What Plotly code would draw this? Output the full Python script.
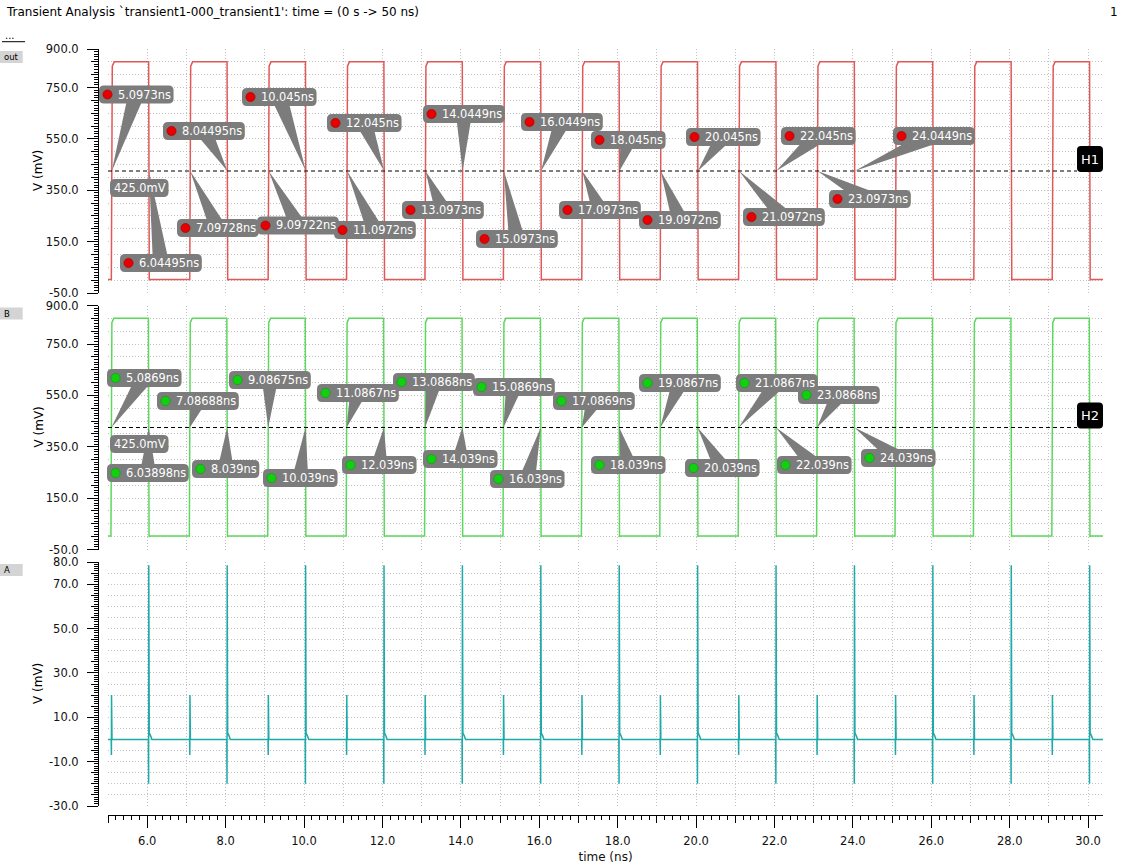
import math
import plotly.graph_objects as go

# ---------------- data ----------------
# threshold-crossing times of node "out" (ns)
out_rise_ns = [5.0973, 7.09728, 9.09722, 11.0972, 13.0973, 15.0973, 17.0973, 19.0972,
               21.0972, 23.0973, 25.0973, 27.0973, 29.0973]
out_fall_ns = [6.04495, 8.04495, 10.045, 12.045, 14.0449, 16.0449, 18.045, 20.045,
               22.045, 24.0449, 26.045, 28.045, 30.045]
# threshold-crossing times of node "B" (ns)
b_rise_ns = [5.0869, 7.08688, 9.08675, 11.0867, 13.0868, 15.0869, 17.0869, 19.0867,
             21.0867, 23.0868, 25.0868, 27.0868, 29.0868]
b_fall_ns = [6.03898, 8.039, 10.039, 12.039, 14.039, 16.039, 18.039, 20.039,
             22.039, 24.039, 26.039, 28.039, 30.039]
square_levels_mV = [3.0, 850.0]          # low, high
threshold_mV = 425.0
n_marked = 10                             # crossings carrying a cursor marker

# node "A": glitch spikes (ns) and their extremes (mV)
a_small_ns = [5.09, 7.09, 9.09, 11.09, 13.09, 15.09, 17.09, 19.09, 21.09, 23.09,
              25.09, 27.09, 29.09]
a_big_ns = [6.04, 8.04, 10.04, 12.04, 14.04, 16.04, 18.04, 20.04, 22.04, 24.04,
            26.04, 28.04, 30.04]
a_small_extremes_mV = [20.0, -7.0]
a_big_extremes_mV = [78.5, -20.0]

panel_names = ["out", "B", "A"]
volt_labels_outB = [900, 750, 550, 350, 150, -50]
volt_labels_A = [80, 70, 50, 30, 10, -10, -30]
time_labels = [6, 8, 10, 12, 14, 16, 18, 20, 22, 24, 26, 28, 30]

# ---------------- label placement (page pixels: box left, box top) ----------------
out_rise_label_px = [(99, 85.5), (177, 219), (257, 216.5), (334, 221), (402, 201), (476, 230),
                     (559, 201), (639, 211), (743, 208), (829, 190)]
out_fall_label_px = [(120, 254), (163, 122), (242, 88), (327, 114), (423, 105), (521, 113),
                     (591, 131), (686, 128), (781, 127), (893, 127)]
b_rise_label_px = [(107, 369), (157, 392), (229, 371), (317, 384), (393, 373), (473, 378),
                   (553, 392), (639, 374), (736, 374), (798, 386)]
b_fall_label_px = [(107, 464), (192, 460), (263, 469), (342, 456), (423, 450), (490, 470),
                   (591, 456), (685, 459), (777, 456), (861, 449)]
thr_label_px = [(110, 179), (110, 435)]

# ---------------- geometry / style ----------------
FIG_W, FIG_H = 1127, 866
M_L, M_R, M_T, M_B = 98, 24, 49, 51
AREA_W = FIG_W - M_L - M_R
AREA_H = FIG_H - M_T - M_B
PLOT_X0, PLOT_X1 = 108, 1103
PANELS_PX = [(49, 293), (305.5, 549.5), (562, 806)]
X_RANGE = [5.0, 30.38]
Y_RANGES = [[-50, 900], [-50, 900], [-30, 80]]
FONT = "DejaVu Sans"
RED, GREEN, TEAL = "#e05858", "#5cd85c", "#1faaaa"
DOT_RED, DOT_GREEN = "#e80000", "#10d010"
BOX_GRAY = "#7c7c7c"
GRID = dict(showgrid=True, gridcolor="#c2c2c2", gridwidth=1, griddash="1px,2px")
LABEL_FS = 11.4


def px_paper(px, py):
    return (px - M_L) / AREA_W, (FIG_H - M_B - py) / AREA_H


def t_to_px(t):
    return PLOT_X0 + (t - X_RANGE[0]) / (X_RANGE[1] - X_RANGE[0]) * (PLOT_X1 - PLOT_X0)


def px_to_t(px):
    return X_RANGE[0] + (px - PLOT_X0) / (PLOT_X1 - PLOT_X0) * (X_RANGE[1] - X_RANGE[0])


def v_to_py(v, k):
    top, bot = PANELS_PX[k]
    lo, hi = Y_RANGES[k]
    return bot - (v - lo) / (hi - lo) * (bot - top)


def py_to_v(py, k):
    top, bot = PANELS_PX[k]
    lo, hi = Y_RANGES[k]
    return lo + (bot - py) / (bot - top) * (hi - lo)


ADV = {**{d: 1303 for d in "0123456789"}, ".": 651, "n": 1298, "s": 1067, "m": 1995, "V": 1401}


def text_w(s, size):
    return sum(ADV.get(c, 1250) for c in s) / 2048 * size


def square_wave(rises, falls):
    low, high = square_levels_mV
    knee = high - 0.02 * (high - low)
    ts, vs = [X_RANGE[0]], [low]
    for r, f in zip(rises, falls):
        ts += [r - 0.012, r + 0.012, r + 0.06, f - 0.008, f + 0.008, f + 0.03]
        vs += [low, knee, high, high, low - 3, low]
    ts.append(X_RANGE[1])
    vs.append(low)
    return ts, vs


def spike_wave(small, big):
    ev = sorted([(t, 0) for t in small] + [(t, 1) for t in big])
    ts, vs = [X_RANGE[0]], [0.0]
    for t, kind in ev:
        if kind == 0:
            hi, lo = a_small_extremes_mV
            ts += [t - 0.008, t - 0.003, t, t + 0.004, t + 0.012]
            vs += [0.0, lo, hi, 0.7 * hi, 0.0]
        else:
            hi, lo = a_big_extremes_mV
            ts += [t - 0.01, t - 0.004, t, t + 0.012, t + 0.05, t + 0.08]
            vs += [0.0, lo, hi, 3.0, 1.5, 0.0]
    ts.append(X_RANGE[1])
    vs.append(0.0)
    return ts, vs


def rounded_path(x0, y0, x1, y1, r):
    pts = [("M", x0 + r, y0), ("L", x1 - r, y0), ("Q", x1, y0, x1, y0 + r), ("L", x1, y1 - r),
           ("Q", x1, y1, x1 - r, y1), ("L", x0 + r, y1), ("Q", x0, y1, x0, y1 - r),
           ("L", x0, y0 + r), ("Q", x0, y0, x0 + r, y0)]
    out = []
    for p in pts:
        cmd, vals = p[0], p[1:]
        coords = []
        for i in range(0, len(vals), 2):
            a, b = px_paper(vals[i], vals[i + 1])
            coords.append(f"{a:.6f},{b:.6f}")
        out.append(cmd + " " + " ".join(coords))
    return " ".join(out) + " Z"


fig = go.Figure()
shapes, annotations = [], []

ts, vs = square_wave(out_rise_ns, out_fall_ns)
fig.add_trace(go.Scatter(x=ts, y=vs, mode="lines", line=dict(color=RED, width=1.5),
                         xaxis="x", yaxis="y", hoverinfo="skip"))
ts, vs = square_wave(b_rise_ns, b_fall_ns)
fig.add_trace(go.Scatter(x=ts, y=vs, mode="lines", line=dict(color=GREEN, width=1.5),
                         xaxis="x", yaxis="y2", hoverinfo="skip"))
ts, vs = spike_wave(a_small_ns, a_big_ns)
fig.add_trace(go.Scatter(x=ts, y=vs, mode="lines", line=dict(color=TEAL, width=1.5),
                         xaxis="x", yaxis="y3", hoverinfo="skip"))
# empty traces so that overlay axes are realised
for xa, ya in [("x2", "y"), ("x", "y4"), ("x", "y5"), ("x", "y6")]:
    fig.add_trace(go.Scatter(x=[None], y=[None], xaxis=xa, yaxis=ya, hoverinfo="skip"))

wedges, boxes, dots = [], [], []


def add_label(k, text, L, T, dot_color, tip_t):
    H = 18
    pad_l = 17.5 if dot_color else 3
    W = pad_l + text_w(text, LABEL_FS) + 4
    cx, cy = L + W / 2, T + H / 2
    yref = ["y", "y2", "y3"][k]
    if tip_t is not None:
        tx, ty = t_to_px(tip_t), v_to_py(threshold_mV, k)
        dx, dy = cx - tx, cy - ty
        n = math.hypot(dx, dy)
        ux, uy = -dy / n, dx / n
        half = 8
        b1 = (cx + ux * half, cy + uy * half)
        b2 = (cx - ux * half, cy - uy * half)
        path = (f"M {tip_t},{threshold_mV} L {px_to_t(b1[0]):.5f},{py_to_v(b1[1], k):.4f} "
                f"L {px_to_t(b2[0]):.5f},{py_to_v(b2[1], k):.4f} Z")
        wedges.append(dict(type="path", xref="x", yref=yref, path=path,
                           fillcolor=BOX_GRAY, line=dict(width=0)))
    boxes.append(dict(type="path", xref="paper", yref="paper",
                      path=rounded_path(L, T, L + W, T + H, 5),
                      fillcolor=BOX_GRAY, line=dict(width=0)))
    if dot_color:
        x0, y0 = px_paper(L + 8.5 - 4.6, cy + 4.6)
        x1, y1 = px_paper(L + 8.5 + 4.6, cy - 4.6)
        dots.append(dict(type="circle", xref="paper", yref="paper", x0=x0, y0=y0, x1=x1, y1=y1,
                         fillcolor=dot_color,
                         line=dict(color="#a00000" if dot_color == DOT_RED else "#0a9a0a", width=0.6)))
    ax, ay = px_paper(L + pad_l, cy)
    annotations.append(dict(xref="paper", yref="paper", x=ax, y=ay, xanchor="left", yanchor="middle",
                            text=text, showarrow=False, borderpad=0,
                            font=dict(family=FONT, size=LABEL_FS, color="white")))


series = [(0, out_rise_ns, out_fall_ns, out_rise_label_px, out_fall_label_px, DOT_RED),
          (1, b_rise_ns, b_fall_ns, b_rise_label_px, b_fall_label_px, DOT_GREEN)]
for k, rises, falls, rpx, fpx, dc in series:
    thr_py = v_to_py(threshold_mV, k)
    shapes.append(dict(type="line", xref="x", yref=["y", "y2"][k], x0=X_RANGE[0], x1=px_to_t(1077),
                       y0=threshold_mV, y1=threshold_mV,
                       line=dict(color="black", width=1, dash="4px,3px")))
    for i in range(n_marked):
        add_label(k, f"{rises[i]:g}ns", rpx[i][0], rpx[i][1], dc, rises[i])
        add_label(k, f"{falls[i]:g}ns", fpx[i][0], fpx[i][1], dc, falls[i])
    add_label(k, f"{threshold_mV:.1f}mV", thr_label_px[k][0], thr_label_px[k][1], None, None)
    boxes.append(dict(type="path", xref="paper", yref="paper",
                      path=rounded_path(1077, thr_py - 25, 1103, thr_py + 1, 4),
                      fillcolor="black", line=dict(width=0)))
    hx, hy = px_paper(1090, thr_py - 12)
    annotations.append(dict(xref="paper", yref="paper", x=hx, y=hy, text=f"H{k + 1}", showarrow=False,
                            xanchor="center", yanchor="middle",
                            font=dict(family=FONT, size=13, color="white")))

shapes += wedges + boxes + dots


# ---------------- page furniture ----------------
def page_text(px, py, text, size, xanchor="left", color="black", angle=0):
    x, y = px_paper(px, py)
    annotations.append(dict(xref="paper", yref="paper", x=x, y=y, text=text, showarrow=False,
                            xanchor=xanchor, yanchor="middle", textangle=angle,
                            font=dict(family=FONT, size=size, color=color)))


page_text(4, 12, "Transient Analysis `transient1-000_transient1': time = (0 s -> 50 ns)", 12)
page_text(1120, 12, "1", 12, xanchor="right")
page_text(3, 35, "...", 10)
x0, y0 = px_paper(2, 41.7)
x1, _ = px_paper(25, 41.7)
shapes.append(dict(type="line", xref="paper", yref="paper", x0=x0, x1=x1, y0=y0, y1=y0,
                   line=dict(color="black", width=1)))
for k, name in enumerate(panel_names):
    top = PANELS_PX[k][0]
    bx0, by0 = px_paper(0, top + 14)
    bx1, by1 = px_paper(22.7, top + 2)
    shapes.append(dict(type="rect", xref="paper", yref="paper", x0=bx0, y0=by0, x1=bx1, y1=by1,
                       fillcolor="#d4d4d4", line=dict(width=0)))
    page_text(2, top + 8, name, 8.5)
    page_text(38, (PANELS_PX[k][0] + PANELS_PX[k][1]) / 2, "V (mV)", 12, xanchor="center", angle=-90)

# ---------------- axes ----------------
tickfont = dict(family=FONT, size=11.5, color="#111")
xdom = [(PLOT_X0 - M_L) / AREA_W, (PLOT_X1 - M_L) / AREA_W]
layout_axes = {}
layout_axes["xaxis"] = dict(domain=xdom, range=X_RANGE, anchor="free", position=0, automargin=False,
                            tickmode="linear", tick0=5, dtick=1, ticks="outside", ticklen=7,
                            tickcolor="black", showticklabels=False, showline=True, linecolor="black",
                            linewidth=1, zeroline=False, **GRID,
                            minor=dict(tickmode="linear", tick0=5, dtick=0.2, ticks="outside",
                                       ticklen=4, tickcolor="black", showgrid=False))
layout_axes["xaxis2"] = dict(overlaying="x", anchor="free", position=0, range=X_RANGE, automargin=False,
                             tickmode="array", tickvals=time_labels,
                             ticktext=[f"{t:.1f}" for t in time_labels], ticks="outside", ticklen=12,
                             tickcolor="black", showline=False, showgrid=False, zeroline=False,
                             tickfont=tickfont, ticklabelstandoff=3,
                             title=dict(text="time (ns)", font=dict(family=FONT, size=12, color="#111"),
                                        standoff=5))
minor_steps = [10, 10, 1]
mid_steps = [50, 50, 5]
label_sets = [volt_labels_outB, volt_labels_outB, volt_labels_A]
for k in range(3):
    top, bot = PANELS_PX[k]
    dom = [(FIG_H - M_B - bot) / AREA_H, (FIG_H - M_B - top) / AREA_H]
    base = "yaxis" if k == 0 else f"yaxis{k + 1}"
    lo, hi = Y_RANGES[k]
    layout_axes[base] = dict(domain=dom, range=Y_RANGES[k], anchor="free", position=0, automargin=False,
                             tickmode="linear", tick0=lo, dtick=mid_steps[k], ticks="outside",
                             ticklen=7, tickcolor="black", showticklabels=False, showline=True,
                             linecolor="black", linewidth=1, zeroline=False, **GRID,
                             minor=dict(tickmode="linear", tick0=lo, dtick=minor_steps[k],
                                        ticks="outside", ticklen=4, tickcolor="black", showgrid=False))
    layout_axes[f"yaxis{k + 4}"] = dict(overlaying="y" if k == 0 else f"y{k + 1}", anchor="free",
                                        position=0, range=Y_RANGES[k], tickmode="array", automargin=False,
                                        tickvals=label_sets[k],
                                        ticktext=[f"{v:.1f}" for v in label_sets[k]],
                                        ticks="outside", ticklen=11, tickcolor="black",
                                        showline=False, showgrid=False, zeroline=False,
                                        tickfont=tickfont, ticklabelstandoff=6)

fig.update_layout(width=FIG_W, height=FIG_H,
                  margin=dict(l=M_L, r=M_R, t=M_T, b=M_B, autoexpand=False),
                  paper_bgcolor="white", plot_bgcolor="white", showlegend=False,
                  hovermode=False, shapes=shapes, annotations=annotations,
                  font=dict(family=FONT, size=12, color="#111"), **layout_axes)

fig.write_html("out.html", config={"displayModeBar": False},
               post_script="document.body.style.margin='0px';")
